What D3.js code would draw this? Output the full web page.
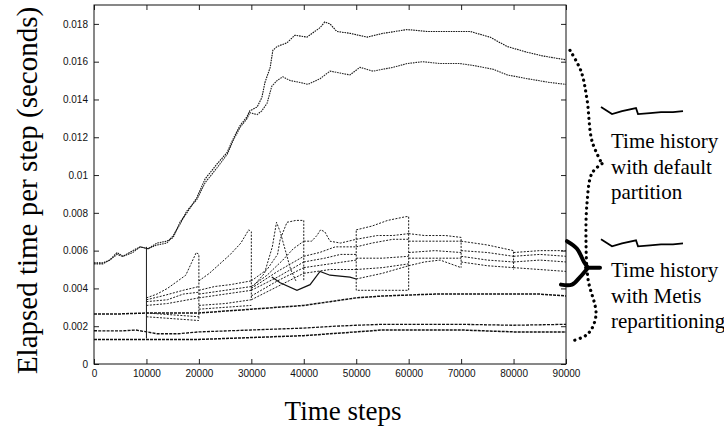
<!DOCTYPE html>
<html>
<head>
<meta charset="utf-8">
<script src="https://cdn.jsdelivr.net/npm/d3@7"></script>
<style>
  html, body { margin: 0; padding: 0; background: #fff; }
  svg { display: block; }
</style>
</head>
<body>
<svg id="chart" width="724" height="428"></svg>
<script>
// axis ticks
const xTicks = [0, 10000, 20000, 30000, 40000, 50000, 60000, 70000, 80000, 90000];
const yTicks = [0, 0.002, 0.004, 0.006, 0.008, 0.01, 0.012, 0.014, 0.016, 0.018];
const yTickLabels = ["0", "0.002", "0.004", "0.006", "0.008", "0.01", "0.012", "0.014", "0.016", "0.018"];

// time history with default partition (two runs)
const defaultHi = [[0, .00535], [1700, .00535], [3000, .0055], [4400, .0059], [5500, .0057], [7400, .006], [8800, .0062], [10300, .0061],
  [12000, .0064], [13900, .0065], [15100, .0067], [16400, .0075], [17700, .008], [19600, .0088], [21200, .0098], [23500, .0106],
  [25400, .0112], [26500, .0119], [27800, .0126], [29200, .0131], [29700, .0134], [31100, .0136], [32000, .0141], [32600, .0149],
  [33600, .0157], [34100, .0166], [34900, .0168], [36800, .017], [38300, .0174], [40600, .0173], [43100, .0178], [44000, .0181],
  [45000, .018], [46300, .0176], [48800, .0175], [52100, .0173], [55100, .0175], [59700, .0177], [63500, .0176], [67300, .0176],
  [71700, .0176], [75500, .0173], [78800, .0168], [82600, .0165], [85600, .0163], [90000, .0161]];
const defaultLo = [[0, .0053], [1700, .0053], [3000, .0055], [4400, .0058], [5500, .0057], [7400, .0059], [8800, .0062], [10300, .0061],
  [12000, .0063], [13900, .0064], [15100, .0068], [16400, .0074], [17700, .0081], [19600, .0087], [21200, .0096], [23500, .0104],
  [25400, .0111], [26500, .0118], [27800, .0125], [29200, .013], [29700, .0133], [31100, .0132], [32000, .0134], [33000, .0138],
  [33900, .0147], [34900, .015], [36000, .0152], [37400, .015], [39300, .0149], [40800, .0148], [43100, .0151], [45000, .0155],
  [46900, .0154], [48800, .0153], [50700, .0157], [53200, .0155], [57000, .0157], [59700, .0159], [62700, .016], [66000, .0159],
  [69800, .0159], [72300, .0158], [76100, .0156], [78800, .0153], [82600, .0151], [86900, .0149], [90000, .0148]];

// time history with Metis repartitioning, one list per restart interval
const metis10k = [
  [[10000, .0062], [10000, .00135]],
  [[10000, .0035], [12000, .0037], [14000, .004], [16000, .0044], [17500, .0047], [18500, .0053], [19500, .0059], [20000, .0058], [20000, .0024]],
  [[10000, .0034], [13000, .0036], [17000, .0039], [20000, .0041]],
  [[10000, .0033], [14000, .0034], [17000, .0037], [20000, .0038]],
  [[10000, .0031], [14000, .0032], [20000, .0035]],
  [[10000, .0027], [15000, .0026], [20000, .0025]],
  [[10000, .0025], [15000, .0024], [20000, .0023]]
];
const metis20k = [
  [[20000, .0044], [22000, .0048], [24000, .0053], [26000, .0058], [28000, .0064], [29500, .0071], [30000, .007], [30000, .0034]],
  [[20000, .0039], [23000, .0041], [26000, .0042], [30000, .0044]],
  [[20000, .0037], [25000, .0039], [30000, .0041]],
  [[20000, .0035], [25000, .0037], [30000, .0039]],
  [[20000, .0031], [25000, .0032], [30000, .0034]],
  [[20000, .0029], [25000, .003], [30000, .0031]]
];
const metis30k = [
  [[30000, .004], [32500, .0048], [34000, .0062], [34800, .0075], [35500, .007], [36500, .006], [37500, .005], [38500, .0044]],
  [[30000, .0044], [33000, .005], [35000, .0058], [35500, .0066], [36800, .0075], [38500, .0076], [40000, .0076], [40000, .0044]],
  [[30000, .0041], [33000, .0047], [36000, .0055], [38000, .0061], [40000, .0065]],
  [[30000, .004], [35000, .0049], [40000, .0057]],
  [[30000, .0039], [35000, .0046], [40000, .0054]],
  [[30000, .0036], [35000, .0044], [40000, .0051]],
  [[30000, .0034], [35000, .0041], [40000, .0048]]
];
const metisDip = [[33900, .0046], [35500, .0043], [38700, .0039], [41200, .0042], [43100, .0049], [45000, .0047], [48800, .0046], [50000, .0045]];
const metis40k = [
  [[40000, .0065], [41500, .0065], [42500, .0068], [43200, .0071], [44000, .007], [45000, .0065], [47000, .0064], [50000, .0066]],
  [[40000, .0057], [43000, .0059], [46000, .0062], [50000, .0062]],
  [[40000, .0054], [44000, .0056], [47000, .0058], [50000, .0058]],
  [[40000, .0051], [45000, .0053], [50000, .0055]],
  [[40000, .0048], [45000, .005], [50000, .005]]
];
const metis50k = [
  [[50000, .0071], [53000, .0073], [56000, .0076], [59500, .0078], [60000, .0078], [60000, .0039], [55000, .0039], [50000, .0039], [50000, .0071]],
  [[50000, .0066], [54000, .0068], [57000, .0068], [60000, .0069]],
  [[50000, .0062], [53000, .0064], [57000, .0066], [60000, .0066]],
  [[50000, .0056], [55000, .0056], [60000, .0057]],
  [[50000, .005], [55000, .0051], [60000, .0053]],
  [[50000, .0045], [55000, .0048], [60000, .0052]]
];
const metis60k = [
  [[60000, .0069], [63000, .0068], [67000, .0068], [70000, .0067], [70000, .0051]],
  [[60000, .0065], [65000, .0065], [70000, .0065]],
  [[60000, .0059], [65000, .006], [70000, .0059]],
  [[60000, .0056], [65000, .0056], [70000, .0056]],
  [[60000, .0052], [63000, .0054], [66000, .0055], [70000, .0051]]
];
const metis70k = [
  [[70000, .0065], [75000, .0063], [80000, .006], [80000, .005]],
  [[70000, .006], [75000, .0059], [80000, .0057]],
  [[70000, .0057], [75000, .0055], [80000, .0054]],
  [[70000, .0054], [75000, .0052], [80000, .0051]]
];
const metis80k = [
  [[80000, .0059], [85000, .006], [90000, .006]],
  [[80000, .0057], [85000, .0058], [90000, .0057]],
  [[80000, .0054], [85000, .0055], [90000, .0054]],
  [[80000, .0051], [85000, .005], [90000, .0049]]
];

// lower runs
const base1 = [[0, .00265], [5000, .00265], [10000, .0027], [15000, .0027], [20000, .0027], [25000, .0028], [30000, .0029], [35000, .003],
  [40000, .0031], [45000, .0033], [50000, .0035], [55000, .0036], [60000, .00365], [65000, .0037], [70000, .0037], [75000, .0037],
  [80000, .0037], [85000, .0037], [90000, .0036]];
const base2 = [[0, .00176], [5000, .00175], [8000, .0018], [10000, .0017], [12000, .0016], [16000, .0016], [20000, .0017], [30000, .0018],
  [40000, .0019], [46000, .002], [50000, .00205], [55000, .0021], [60000, .0021], [70000, .0021], [80000, .00205], [90000, .0021]];
const base3 = [[0, .0013], [10000, .0013], [20000, .0013], [30000, .0014], [40000, .0015], [45000, .0016], [50000, .0017], [55000, .0018],
  [60000, .0018], [70000, .0018], [80000, .0017], [90000, .0017]];

const svg = d3.select("#chart");
const margin = { left: 94, right: 158, top: 5, bottom: 64 };
const W = 724, H = 428;

const x = d3.scaleLinear().domain([0, 90000]).range([margin.left, W - margin.right]);
const y = d3.scaleLinear().domain([0, 0.019]).range([H - margin.bottom, margin.top]);

const line = d3.line().x(d => x(d[0])).y(d => y(d[1]));

// axes with inward ticks on every side
const tickFont = "'Liberation Sans', Arial, sans-serif";
const gx = svg.append("g").attr("transform", `translate(0,${y(0)})`)
  .call(d3.axisBottom(x).tickValues(xTicks).tickSizeInner(-5).tickSizeOuter(0).tickPadding(6).tickFormat(d3.format("d")));
const gy = svg.append("g").attr("transform", `translate(${x(0)},0)`)
  .call(d3.axisLeft(y).tickValues(yTicks).tickSizeInner(-5).tickSizeOuter(0).tickPadding(6).tickFormat((d, i) => yTickLabels[i]));
const gt = svg.append("g").attr("transform", `translate(0,${y.range()[1]})`)
  .call(d3.axisTop(x).tickValues(xTicks).tickSizeInner(-5).tickSizeOuter(0).tickFormat(""));
const gr = svg.append("g").attr("transform", `translate(${x(90000)},0)`)
  .call(d3.axisRight(y).tickValues(yTicks).tickSizeInner(-5).tickSizeOuter(0).tickFormat(""));
[gx, gy, gt, gr].forEach(g => {
  g.select(".domain").remove();
  g.selectAll("line").attr("stroke", "#222");
  g.selectAll("text").attr("fill", "#111").style("font-family", tickFont).style("font-size", "10px");
});

// frame
svg.append("rect")
  .attr("x", x(0)).attr("y", y.range()[1])
  .attr("width", x(90000) - x(0)).attr("height", y(0) - y.range()[1])
  .attr("fill", "none").attr("stroke", "#111").attr("stroke-width", 1);

const plot = svg.append("g");

function draw(data, width, dash, color) {
  plot.append("path").datum(data)
    .attr("d", line)
    .attr("fill", "none")
    .attr("stroke", color || "#111")
    .attr("stroke-width", width)
    .attr("stroke-dasharray", dash);
}

// lower runs
draw(base1, 1.5, "3,1");
draw(base2, 1.3, "3,1.2");
draw(base3, 1.5, "3,1");

// metis runs
[metis10k, metis20k, metis30k, metis40k, metis50k, metis60k, metis70k, metis80k].forEach(set => {
  set.forEach((run, i) => draw(run, 1, set === metis10k && i === 0 ? null : "2,1.4", "#1c1c1c"));
});
draw(metisDip, 1.2, null, "#111");

// default partition runs
draw(defaultLo, 1.1, "1.6,0.9", "#222");
draw(defaultHi, 1.1, "1.6,0.9", "#111");

// axis titles
const serif = "'Liberation Serif', 'Times New Roman', serif";
svg.append("text")
  .attr("transform", `translate(37,${(y(0) + y.range()[1]) / 2 + 6}) rotate(-90)`)
  .attr("text-anchor", "middle")
  .style("font-family", serif).style("font-size", "29px").attr("fill", "#000")
  .text("Elapsed time per step (seconds)");
svg.append("text")
  .attr("x", 343).attr("y", 420)
  .attr("text-anchor", "middle")
  .style("font-family", serif).style("font-size", "27px").attr("fill", "#000")
  .text("Time steps");

// annotations on the right
const ann = svg.append("g");
const curve = d3.line().curve(d3.curveCatmullRom.alpha(0.5));
const xr = x(90000);

// dotted brace
ann.append("path")
  .attr("d", curve([[xr + 4, y(0.0166)], [xr + 15, y(0.0155)], [xr + 21, y(0.014)], [xr + 26, y(0.0118)], [xr + 36, y(0.0106)]]) +
    curve([[xr + 36, y(0.0106)], [xr + 26, y(0.0101)], [xr + 21, y(0.0085)], [xr + 20, y(0.0065)], [xr + 22, y(0.0045)],
      [xr + 30, y(0.0026)], [xr + 22, y(0.0016)], [xr + 5, y(0.0012)]]))
  .attr("fill", "none").attr("stroke", "#000").attr("stroke-width", 3.2)
  .attr("stroke-linecap", "round").attr("stroke-dasharray", "0.1,5.4");

// solid brace
ann.append("path")
  .attr("d", curve([[xr + 1, y(0.0065)], [xr + 11, y(0.0061)], [xr + 18, y(0.0054)], [xr + 22, y(0.0051)]]) +
    curve([[xr + 22, y(0.0051)], [xr + 14, y(0.0046)], [xr + 6, y(0.0042)], [xr - 5, y(0.0042)]]) +
    "M" + (xr + 20) + "," + y(0.0051) + "L" + (xr + 34) + "," + y(0.0051))
  .attr("fill", "none").attr("stroke", "#000").attr("stroke-width", 4).attr("stroke-linecap", "round");

// small sample traces
const trace = [[0, 0], [11, 7], [21, 4], [35, 1], [37, 7], [49, 6], [60, 5], [72, 5], [82, 4]];
[y(0.0136), y(0.0066)].forEach(ty => {
  ann.append("path")
    .attr("d", d3.line()(trace.map(p => [xr + 35 + p[0], ty + p[1]])))
    .attr("fill", "none").attr("stroke", "#000").attr("stroke-width", 1.8);
});

const labels = [["Time history", "with default", "partition"], ["Time history", "with Metis", "repartitioning"]];
[148, 277].forEach((by, k) => {
  labels[k].forEach((t, i) => {
    ann.append("text")
      .attr("x", 611).attr("y", by + i * 25.5)
      .style("font-family", serif).style("font-size", "21px").attr("fill", "#000")
      .text(t);
  });
});
</script>
</body>
</html>
